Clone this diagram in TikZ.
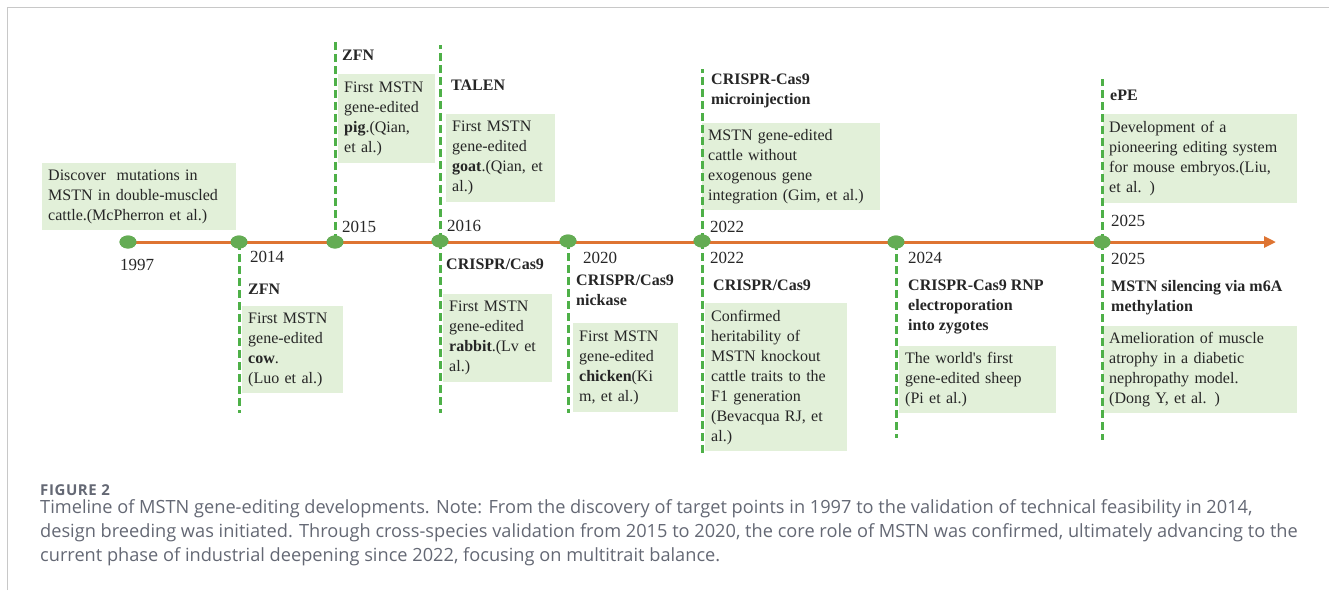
\documentclass[tikz,border=0pt]{standalone}
\usepackage{fontspec}
\setmainfont{Liberation Serif}
\newfontfamily\plainserif{Liberation Serif}
\newfontfamily\capfont{Open Sans}
\newfontfamily\capfig{Open Sans}[LetterSpace=4.0]
\usetikzlibrary{arrows.meta,shapes.geometric}
\definecolor{boxgreen}{RGB}{226,240,217}
\definecolor{dotgreen}{RGB}{100,172,84}
\definecolor{dashgreen}{RGB}{78,176,72}
\definecolor{orangeline}{RGB}{222,116,50}
\definecolor{capgrey}{RGB}{100,104,116}
\definecolor{framegrey}{RGB}{200,200,200}
\tikzset{
  every node/.style={font=\fontsize{16}{20}\selectfont, text=black!85},
  dotnode/.style={ellipse, fill=dotgreen, minimum width=17pt, minimum height=13pt, inner sep=0pt},
  vline/.style={draw=dashgreen, line width=3pt, dash pattern=on 8pt off 4pt},
  tline/.style={draw=orangeline, line width=3pt},
  infobox/.style={fill=boxgreen, anchor=north west, inner xsep=6pt, inner ysep=0pt, align=left},
  yearlbl/.style={anchor=west, inner sep=0pt, font=\fontsize{17}{20}\selectfont},
  headlbl/.style={anchor=north west, inner sep=0pt, align=left, font=\bfseries\fontsize{16}{20}\selectfont},
  headone/.style={anchor=west, inner sep=0pt, font=\bfseries\fontsize{16}{20}\selectfont},
  captxt/.style={anchor=west, inner sep=0pt, text=capgrey, font=\capfont\fontsize{18.2}{22}\selectfont},
}
\begin{document}
\begin{tikzpicture}[x=1pt,y=-1pt]
\useasboundingbox (0,0) rectangle (1329,590);
% frame
\draw[framegrey, line width=1.5pt] (7.5,590) -- (7.5,7.5) -- (1329,7.5);

% boxes
\node[infobox, text width=182pt, minimum height=67pt] (b1997) at (42,163) {Discover\ \ mutations in\\MSTN in double-muscled\\cattle.(McPherron et al.)};
\node[infobox, text width=85pt, minimum height=89pt] (b2015) at (338,74) {First MSTN\\gene-edited\\\textbf{pig}.(Qian,\\et al.)};
\node[infobox, text width=97pt, minimum height=88pt] (b2016u) at (446,114) {First MSTN\\gene-edited\\\textbf{goat}.(Qian, et\\al.)};
\node[infobox, text width=166pt, minimum height=87pt] (b2022u) at (702,123) {MSTN gene-edited\\cattle without\\exogenous gene\\integration (Gim, et al.)};
\node[infobox, text width=182pt, minimum height=89pt] (b2025u) at (1103,114) {Development of a\\pioneering editing system\\for mouse embryos.(Liu,\\et al. )};
\node[infobox, text width=89pt, minimum height=87pt] (b2014) at (242,306) {First MSTN\\gene-edited\\\textbf{cow}.\\(Luo et al.)};
\node[infobox, text width=97pt, minimum height=88pt] (b2016l) at (443,294) {First MSTN\\gene-edited\\\textbf{rabbit}.(Lv et\\al.)};
\node[infobox, text width=93pt, minimum height=89pt] (b2020) at (573,323) {First MSTN\\gene-edited\\\textbf{chicken}(Ki\\m, et al.)};
\node[infobox, text width=130pt, minimum height=148pt] (b2022l) at (705,303) {Confirmed\\heritability of\\MSTN knockout\\cattle traits to the\\F1 generation\\(Bevacqua RJ, et\\al.)};
\node[infobox, text width=145pt, minimum height=67pt] (b2024) at (899,346) {The world{\plainserif'}s first\\gene-edited sheep\\(Pi et al.)};
\node[infobox, text width=182pt, minimum height=87pt] (b2025l) at (1103,326) {Amelioration of muscle\\atrophy in a diabetic\\nephropathy model.\\(Dong Y, et al. )};

% dots (positions)
\node[dotnode] (d1997) at (128,242) {};
\node[dotnode] (d2014) at (239,242) {};
\node[dotnode] (d2015) at (335,242) {};
\node[dotnode] (d2016) at (440,241) {};
\node[dotnode] (d2020) at (568,241) {};
\node[dotnode] (d2022) at (702,241) {};
\node[dotnode] (d2024) at (896,242) {};
\node[dotnode] (d2025) at (1102,242) {};

% connector end points
\coordinate (e2014d) at (239,413);
\coordinate (e2015u) at (335,41);
\coordinate (e2016u) at (440,45);
\coordinate (e2016d) at (440,413);
\coordinate (e2020d) at (568,413);
\coordinate (e2022u) at (702,69);
\coordinate (e2022d) at (702,453);
\coordinate (e2024d) at (896,438);
\coordinate (e2025u) at (1102,79);
\coordinate (e2025d) at (1102,440);
\coordinate (arrowend) at (1276,242);

% dashed verticals
\draw[vline] (d2014.center) -- (e2014d);
\draw[vline] (d2015.center) -- (e2015u);
\draw[vline] (d2016.center) -- (e2016u);
\draw[vline] (d2016.center) -- (e2016d);
\draw[vline] (d2020.center) -- (e2020d);
\draw[vline] (d2022.center) -- (e2022u);
\draw[vline] (d2022.center) -- (e2022d);
\draw[vline] (d2024.center) -- (e2024d);
\draw[vline] (d2025.center) -- (e2025u);
\draw[vline] (d2025.center) -- (e2025d);

% timeline
\draw[tline, -{Triangle[length=12pt,width=11pt]}] (d1997.center) -- (arrowend);

% redraw dots on top
\foreach \n/\x/\y in {r1997/128/242, r2014/239/242, r2015/335/242, r2016/440/241, r2020/568/241, r2022/702/241, r2024/896/242, r2025/1102/242}
  \node[dotnode] (\n) at (\x,\y) {};

% years
\node[anchor=center, inner sep=0pt, font=\fontsize{17}{20}\selectfont] (y1997) at (137,265) {1997};
\node[yearlbl] (y2014) at (250,257) {2014};
\node[yearlbl] (y2015) at (342,227) {2015};
\node[yearlbl] (y2016) at (447,226) {2016};
\node[yearlbl] (y2020) at (583,258) {2020};
\node[yearlbl] (y2022u) at (710,227) {2022};
\node[yearlbl] (y2022l) at (710,258) {2022};
\node[yearlbl] (y2024) at (908,258) {2024};
\node[yearlbl] (y2025u) at (1111,221) {2025};
\node[yearlbl] (y2025l) at (1111,259) {2025};

% method labels
\node[headone] (h2015) at (342,55) {ZFN};
\node[headone] (h2016u) at (451,85) {TALEN};
\node[headlbl] (h2022u) at (711,74) {CRISPR-Cas9\\microinjection};
\node[headone] (h2025u) at (1110,95) {ePE};
\node[headone] (h2014) at (248,289) {ZFN};
\node[headone] (h2016l) at (446,264) {CRISPR/Cas9};
\node[headlbl] (h2020) at (576,275) {CRISPR/Cas9\\nickase};
\node[headone] (h2022l) at (713,285) {CRISPR/Cas9};
\node[headlbl] (h2024) at (908,280) {CRISPR-Cas9 RNP\\electroporation\\into zygotes};
\node[headlbl] (h2025l) at (1111,280) {MSTN silencing via m6A\\methylation};

% caption
\node[captxt, font=\capfig\bfseries\fontsize{15}{18}\selectfont] (capt) at (40,490) {FIGURE 2};
\node[captxt] (cap1) at (40,509) {Timeline of MSTN gene-editing developments. Note: From the discovery of target points in 1997 to the validation of technical feasibility in 2014,};
\node[captxt] (cap2) at (40,533) {design breeding was initiated. Through cross-species validation from 2015 to 2020, the core role of MSTN was confirmed, ultimately advancing to the};
\node[captxt] (cap3) at (40,557) {current phase of industrial deepening since 2022, focusing on multitrait balance.};
\end{tikzpicture}
\end{document}
